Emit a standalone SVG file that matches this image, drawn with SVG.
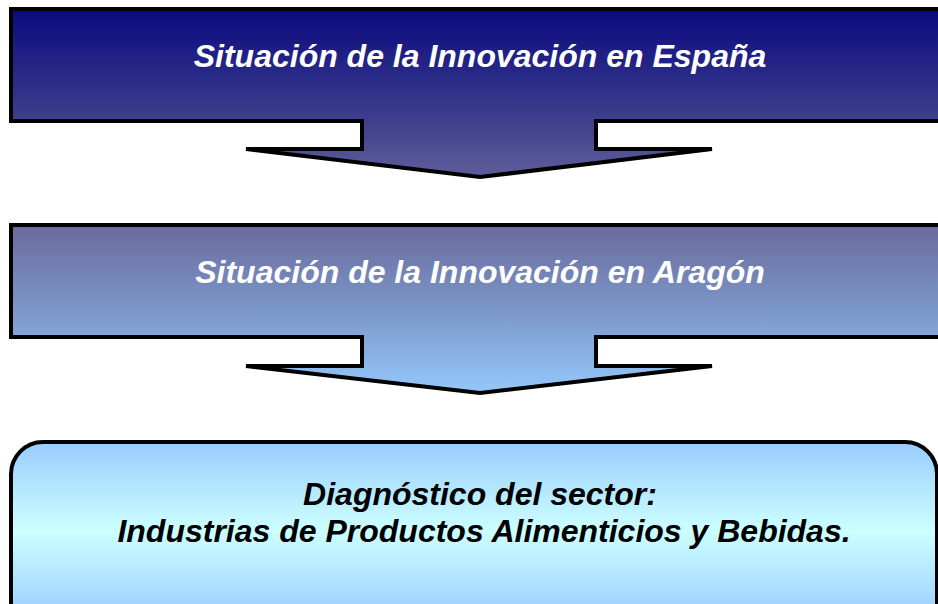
<svg xmlns="http://www.w3.org/2000/svg" width="938" height="604" viewBox="0 0 938 604">
<defs>
<linearGradient id="g1" gradientUnits="userSpaceOnUse" x1="0" y1="9" x2="0" y2="177">
<stop offset="0" stop-color="#0A0A80"/>
<stop offset="0.66" stop-color="#3E3E8C"/>
<stop offset="1" stop-color="#5E5E9C"/>
</linearGradient>
<linearGradient id="g2" gradientUnits="userSpaceOnUse" x1="0" y1="225" x2="0" y2="393">
<stop offset="0" stop-color="#6A6A9E"/>
<stop offset="0.5" stop-color="#7C96C8"/>
<stop offset="1" stop-color="#94C8FA"/>
</linearGradient>
<linearGradient id="g3" gradientUnits="userSpaceOnUse" x1="0" y1="442" x2="0" y2="620">
<stop offset="0" stop-color="#99CCFF"/>
<stop offset="0.5" stop-color="#CCFFFF"/>
<stop offset="1" stop-color="#99CCFF"/>
</linearGradient>
<style>
.shape{stroke:#000;stroke-width:4;stroke-linejoin:miter}
.t{font-family:"Liberation Sans",Arial,sans-serif;font-weight:bold;font-style:italic;text-anchor:middle;font-size:32px}
.w{fill:#fff}
.b{fill:#000}
</style>
</defs>
<g id="node-espana">
<polygon class="shape" fill="url(#g1)" points="945,9 11,9 11,121 362,121 362,149 246,149 480,177 712,149 596,149 596,121 945,121"/>
<text class="t w" x="480" y="67">Situación de la Innovación en España</text>
</g>
<g id="node-aragon">
<polygon class="shape" fill="url(#g2)" points="945,225 11,225 11,337 362,337 362,366 246,366 480,393 712,366 596,366 596,337 945,337"/>
<text class="t w" x="480" y="283">Situación de la Innovación en Aragón</text>
</g>
<g id="node-diagnostico">
<rect class="shape" fill="url(#g3)" x="11" y="442" width="926" height="200" rx="32" ry="32"/>
<text class="t b" x="480" y="505">Diagnóstico del sector:</text>
<text class="t b" x="484" y="542">Industrias de Productos Alimenticios y Bebidas.</text>
</g>
<g id="connectors"></g>
</svg>
